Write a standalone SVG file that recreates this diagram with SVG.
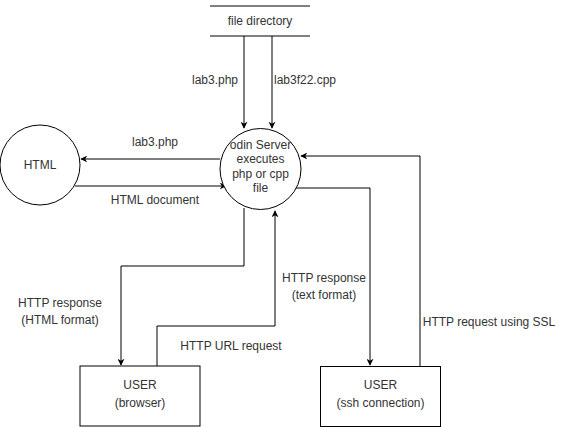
<svg xmlns="http://www.w3.org/2000/svg" width="571" height="427" viewBox="0 0 571 427">
<defs>
<style>
text{font-family:"Liberation Sans",Arial,sans-serif;font-size:12px;fill:#333}
.c{text-anchor:middle}
.s{fill:none;stroke:#000;stroke-width:1}
.n{fill:#fff;stroke:#000;stroke-width:1}
</style>
<marker id="a" viewBox="0 0 10 10" refX="9" refY="5" markerWidth="7" markerHeight="7" orient="auto" markerUnits="userSpaceOnUse">
<path d="M0,0 L10,5 L0,10 L3,5 Z" fill="#000"/>
</marker>
</defs>
<rect width="571" height="427" fill="#fff"/>
<g id="connectors">
<path class="s" d="M244,36 V128" marker-end="url(#a)"/>
<path class="s" d="M272,36 V128" marker-end="url(#a)"/>
<path class="s" d="M220,159 H81" marker-end="url(#a)"/>
<path class="s" d="M75,186 H226" marker-end="url(#a)"/>
<path class="s" d="M420,366 V156 H301" marker-end="url(#a)"/>
<path class="s" d="M296,188 H370 V365" marker-end="url(#a)"/>
<path class="s" d="M244,208 V266 H121 V365" marker-end="url(#a)"/>
<path class="s" d="M157,366 V326 H275 V211" marker-end="url(#a)"/>
<text x="215" y="84" class="c">lab3.php</text>
<text x="305" y="84" class="c">lab3f22.cpp</text>
<text x="155" y="146" class="c">lab3.php</text>
<text x="155" y="204" class="c">HTML document</text>
<text x="324" y="282" class="c">HTTP response</text>
<text x="324" y="299" class="c">(text format)</text>
<text x="60" y="307" class="c">HTTP response</text>
<text x="60" y="324" class="c">(HTML format)</text>
<text x="231" y="350" class="c">HTTP URL request</text>
<text x="489" y="326" class="c">HTTP request using SSL</text>
</g>
<g id="file-directory">
<path class="s" d="M210,6 H310 M210,36 H310"/>
<text x="260" y="25" class="c">file directory</text>
</g>
<g id="html">
<circle class="n" cx="40" cy="165" r="40"/>
<text x="40" y="169" class="c">HTML</text>
</g>
<g id="server">
<circle class="n" cx="260.5" cy="169" r="40.5"/>
<text x="260.5" y="149" class="c">odin Server</text>
<text x="260.5" y="163" class="c">executes</text>
<text x="260.5" y="178" class="c">php or cpp</text>
<text x="260.5" y="192" class="c">file</text>
</g>
<g id="user-browser">
<rect class="n" x="80" y="366" width="120" height="60"/>
<text x="140" y="389" class="c">USER</text>
<text x="140" y="407" class="c">(browser)</text>
</g>
<g id="user-ssh">
<rect class="n" x="320.5" y="366.5" width="120" height="60"/>
<text x="380.5" y="389" class="c">USER</text>
<text x="380.5" y="407" class="c">(ssh connection)</text>
</g>
</svg>
